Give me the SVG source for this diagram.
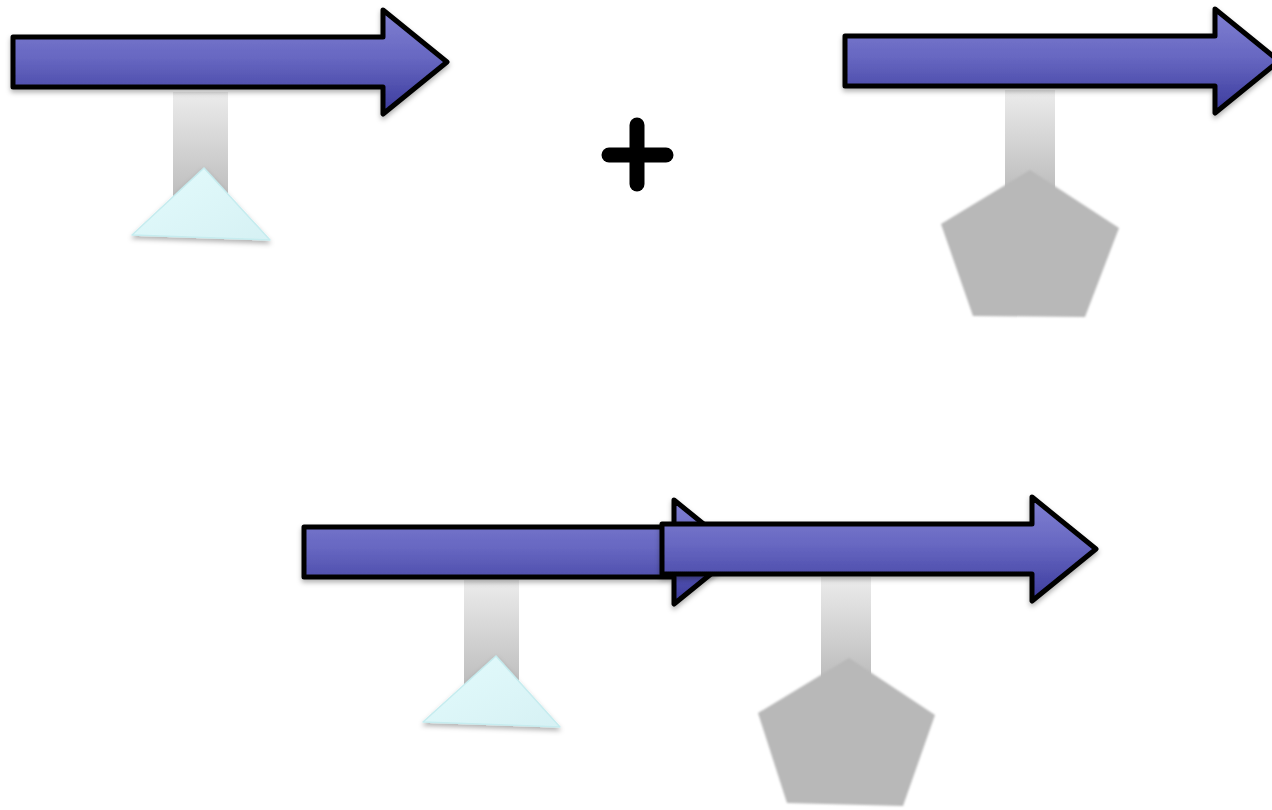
<svg xmlns="http://www.w3.org/2000/svg" width="1272" height="810" viewBox="0 0 1272 810">
<style>
.arrow{fill:url(#arrowGrad);stroke:#000;stroke-width:5;stroke-linejoin:round;filter:url(#shadow)}
.stem{fill:url(#stemGrad)}
.tri{fill:url(#triGrad);stroke:#c6ecef;stroke-width:1.5;stroke-linejoin:round;filter:url(#shadow)}
.pent{fill:#b8b8b8;filter:url(#soft)}
.plus{stroke:#000;stroke-width:15;stroke-linecap:round}
</style>
<defs>
<linearGradient id="arrowGrad" x1="0" y1="0" x2="0" y2="1">
<stop offset="0" stop-color="#8080d2"/>
<stop offset="0.45" stop-color="#6868c2"/>
<stop offset="1" stop-color="#3a3a9c"/>
</linearGradient>
<linearGradient id="stemGrad" x1="0" y1="0" x2="0" y2="1">
<stop offset="0" stop-color="#ececec"/>
<stop offset="1" stop-color="#bdbdbd"/>
</linearGradient>
<linearGradient id="triGrad" x1="0" y1="0" x2="1" y2="1">
<stop offset="0" stop-color="#e3fbfc"/>
<stop offset="1" stop-color="#d6f1f4"/>
</linearGradient>
<filter id="shadow" x="-10%" y="-20%" width="120%" height="150%">
<feDropShadow dx="0" dy="3" stdDeviation="2.5" flood-color="#000" flood-opacity="0.3"/>
</filter>
<filter id="soft" x="-10%" y="-10%" width="120%" height="120%">
<feGaussianBlur stdDeviation="0.8"/>
</filter>
<path id="arrowShape" d="M0,0 H370 V-27 L434,25 L370,77 V50 H0 Z"/>
</defs>
<rect width="1272" height="810" fill="#fff"/>
<g id="plus">
<line class="plus" x1="637" y1="125" x2="637" y2="184"/>
<line class="plus" x1="609" y1="155" x2="666" y2="155"/>
</g>
<g id="node-top-left">
<rect class="stem" x="173" y="92" width="55" height="105"/>
<polygon class="tri" points="204,168 132,235 270,240"/>
<use href="#arrowShape" class="arrow" transform="translate(13,37)"/>
</g>
<g id="node-top-right">
<rect class="stem" x="1005" y="90" width="50" height="100"/>
<polygon class="pent" points="1030,170 1119,228 1085,317 973,316 941,224"/>
<use href="#arrowShape" class="arrow" transform="translate(845,36)"/>
</g>
<g id="node-bottom-left">
<rect class="stem" x="464" y="580" width="55" height="105"/>
<polygon class="tri" points="496,656 423,722 560,727"/>
<use href="#arrowShape" class="arrow" transform="translate(304,527)"/>
</g>
<g id="node-bottom-right">
<rect class="stem" x="821" y="577" width="50" height="100"/>
<polygon class="pent" points="849,658 935,715 903,806 787,803 758,713"/>
<use href="#arrowShape" class="arrow" transform="translate(662,524)"/>
</g>
<g id="connectors"/>
</svg>
